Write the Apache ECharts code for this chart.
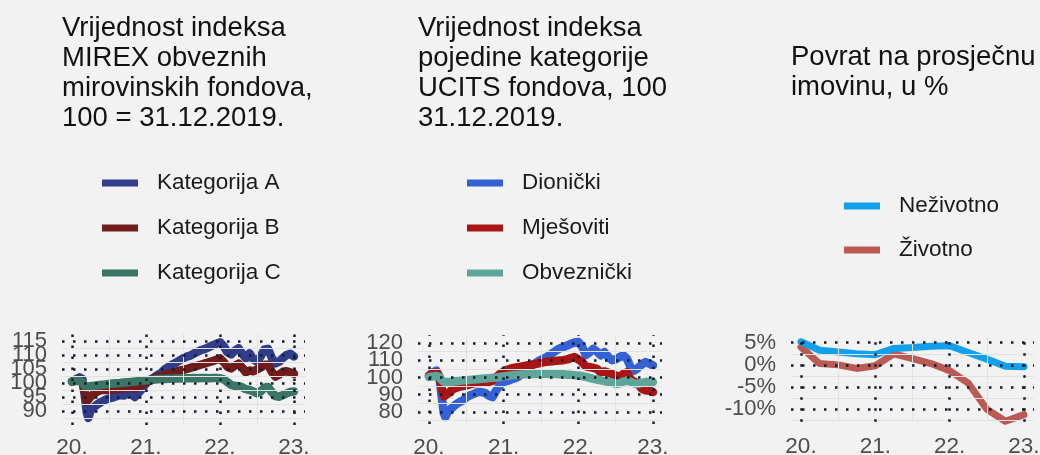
<!DOCTYPE html>
<html><head><meta charset="utf-8">
<script src="https://cdn.jsdelivr.net/npm/echarts@6/dist/echarts.min.js"></script>
<style>html,body{margin:0;padding:0;background:#f2f2f2}#c{width:1040px;height:455px}</style>
</head><body><div id="c"></div>
<script>
// ---- data ----
const dates = [2020.00,2020.05,2020.10,2020.14,2020.17,2020.20,2020.22,2020.25,2020.30,2020.35,2020.40,2020.45,2020.50,2020.55,2020.60,2020.65,2020.70,2020.75,2020.80,2020.85,2020.90,2020.95,2021.00,
2021.05,2021.10,2021.15,2021.20,2021.25,2021.30,2021.35,2021.40,2021.45,2021.50,2021.55,2021.60,2021.65,2021.70,2021.75,2021.80,2021.85,2021.90,2021.95,2022.00,
2022.05,2022.10,2022.15,2022.20,2022.25,2022.30,2022.35,2022.40,2022.45,2022.50,2022.55,2022.60,2022.65,2022.70,2022.75,2022.80,2022.85,2022.90,2022.95,2023.00];

const katA = [100.5,101.3,102.0,101.5,96,89.5,87.5,90,91.5,92.5,93.3,94,94.5,94.8,95.3,95.7,95.5,96.3,96,95,96.5,98,99.8,
101,101.8,102.8,103.5,104.8,105.7,106.5,107.2,108,108.8,109.4,109.8,110.6,111.2,111.8,112.2,112.8,113.4,114,114.5,
113.2,111,110.2,111.5,112.4,110.5,108.8,110.6,108.5,107.6,109.5,112,112.2,109,107,107.6,109,110,110.4,109.5];
const katB = [100.5,101,101.2,100.5,97,93.3,93.5,95,96.3,97,97.5,97.5,97.6,97.6,97.8,98,98.1,98.3,98.2,98,98.8,99.5,100.2,
101,101.6,102,102.4,102.8,103.3,103.6,104,104.4,104.7,105,105.4,105.8,106.2,106.6,107,107.4,107.8,108.3,108.8,
107.5,105.8,105.2,106.2,106.9,105.5,103.8,104.5,104.2,104.8,105.5,106.5,106.5,104,102.3,103,104,104.2,103.8,103.3];
const katC = [100.5,100.7,100.8,100.3,99,98.5,98.6,98.9,99,99.2,99.4,99.5,99.7,99.8,99.9,100,100.2,100.3,100.4,100.5,100.7,100.8,101,
101.1,101.2,101.3,101.4,101.4,101.5,101.5,101.6,101.6,101.7,101.7,101.7,101.8,101.7,101.8,101.8,101.7,101.8,101.8,101.7,
101.3,100.3,99.3,99,98.8,98.5,97.8,97.5,97,96.3,97,98.3,98.6,96.8,95.3,95.1,95.7,96.3,96.8,97];

const dionicki = [101,103,104,100,89,79,77,80,82,84,85.5,86.5,88.5,89.6,90.5,91.5,91.5,91,89.5,88.6,92.5,95.5,97.5,
98,98.8,99.5,100.5,102.5,104.5,106,107.5,109,110.3,111.2,112.5,114,115.5,116.8,117.6,118.5,119.5,120.3,120.5,
118,113,114.5,116.6,115,112.8,114.7,112,110,110.5,111.8,112.8,111,106,104,105.5,107.5,108.9,108,107];
const mjesoviti = [101,102.5,103,100.5,94,89,88.6,90.5,92.5,93.8,94.5,95,95.4,96,96.5,97,97.3,97.6,97.5,98,100,102,103.5,
104.5,105.2,105.6,106,106.4,106.8,107.2,107.6,108,108.5,108.9,109.2,109.4,109.6,109.8,110,110.5,111.2,111.8,110.5,
108.9,106.5,106,105.5,105,103,103.5,102.8,102,101.2,100.2,102,103,99,97.5,96.3,93.5,92.5,92.5,91.5];
const obveznicki = [100.2,100.6,100.8,100.2,98.5,97.5,97.2,97.3,97.5,97.8,98,98.2,98.4,98.6,98.8,99,99.2,99.4,99.6,99.8,100,100.3,100.6,
100.9,101.2,101.4,101.6,101.7,101.8,101.9,102,102,102.1,102.1,102.1,102,102,101.9,101.8,101.6,101.5,101.3,101.2,
100.8,100.3,99.8,99.2,98.8,98.3,97.9,97.5,97,96.2,96.5,97.5,98.2,97.5,96.5,96.3,96.8,97.3,97.5,97.3];

const quarters = [2020.00,2020.25,2020.50,2020.75,2021.00,2021.25,2021.50,2021.75,2022.00,2022.25,2022.50,2022.75,2023.00];
const nezivotno = [5.2,3.3,2.9,2.5,2.3,3.7,3.9,4.2,4.3,2.8,1.3,-0.3,-0.4];
const zivotno = [4.0,0.3,0.0,-0.8,-0.2,2.5,1.4,0.3,-1.3,-4.1,-10.0,-12.7,-11.2];

const xTicks = [2020,2021,2022,2023];
const xMinor = [2020.5,2021.5,2022.5];
const yTicks1 = [90,95,100,105,110,115];
const yMinor1 = [87.5,92.5,97.5,102.5,107.5,112.5];
const yTicks2 = [80,90,100,110,120];
const yMinor2 = [75,85,95,105,115];
const yTicks3 = [5,0,-5,-10];
const yMinor3 = [2.5,-2.5,-7.5,-12.5];

const titles = [
  'Vrijednost indeksa\nMIREX obveznih\nmirovinskih fondova,\n100 = 31.12.2019.',
  'Vrijednost indeksa\npojedine kategorije\nUCITS fondova, 100\n31.12.2019.',
  'Povrat na prosječnu\nimovinu, u %'
];
const names1 = ['Kategorija A','Kategorija B','Kategorija C'];
const names2 = ['Dionički','Mješoviti','Obveznički'];
const names3 = ['Neživotno','Životno'];

// ---- build ----
const FONT = "'Liberation Sans', Arial, Helvetica, sans-serif";
const colors1 = ['#2f3d8a','#701c1c','#3a7566'];
const colors2 = ['#3461d6','#a91515','#5fa69a'];
const colors3 = ['#12a0ea','#bb5a52'];
const DOT = {type:[2.5,8.5], width:2.5, color:'#141c2e'};
const LIGHT = {type:'solid', width:1, color:'#e2e2e2'};

const pairs = (xs, ys) => xs.map((x,i)=>[x, ys[i]]);
const evens = a => a.filter((_, i) => i % 2 === 0);
const odds = a => a.filter((_, i) => i % 2 === 1);

function gridLines(idx, yT, yM) {
  const data = [];
  xMinor.forEach(v => data.push({xAxis:v, lineStyle:LIGHT}));
  yM.forEach(v => data.push({yAxis:v, lineStyle:LIGHT}));
  yT.forEach(v => data.push({yAxis:v, lineStyle:DOT}));
  xTicks.forEach(v => data.push({xAxis:v, lineStyle:DOT}));
  return {type:'line', xAxisIndex:idx, yAxisIndex:idx, data:[], z:1, silent:true,
    markLine:{silent:true, symbol:['none','none'], label:{show:false}, animation:false, data}};
}
function xAxis(idx, min, max, margin) {
  return {type:'value', gridIndex:idx, min, max,
    axisLine:{show:false}, axisTick:{show:false}, splitLine:{show:false},
    axisLabel:{customValues:xTicks, hideOverlap:false, showMinLabel:true, showMaxLabel:true,
      formatter:v=>String(Math.round(v)).slice(2)+'.',
      fontSize:22.5, color:'#4d4d4d', fontFamily:FONT, margin}};
}
function yAxis(gidx, min, max, ticks, pct) {
  return {type:'value', gridIndex:gidx, min, max, position:'left', offset:0,
    axisLine:{show:false}, axisTick:{show:false}, splitLine:{show:false},
    axisLabel:{customValues:ticks, hideOverlap:false, showMinLabel:true, showMaxLabel:true,
      formatter:v=>pct? v+'%' : String(v),
      fontSize:22, color:'#4d4d4d', fontFamily:FONT, margin:15}};
}
function lineSeries(name, idx, data, color, w) {
  return {name, type:'line', xAxisIndex:idx, yAxisIndex:idx, data, showSymbol:false, symbol:'none',
    clip:false, z:2, color, lineStyle:{width:w, color, cap:'round', join:'round'}, animation:false};
}
function legend(names, left, top, gap) {
  return {data:names, orient:'vertical', left, top, itemWidth:36, itemHeight:7, itemGap:gap, icon:'rect',
    padding:0, selectedMode:false,
    textStyle:{fontSize:22.5, color:'#1a1a1a', fontFamily:FONT, lineHeight:24, padding:[0,0,0,14]}};
}
function title(text, left, top) {
  return {text, left, top, padding:0,
    textStyle:{fontSize:27.5, lineHeight:30, fontWeight:'normal', color:'#111111', fontFamily:FONT}};
}
function grid(left, top, width, height) {
  return {left, top, width, height, containLabel:false, outerBoundsMode:'none'};
}

const option = {
  backgroundColor:'#f2f2f2',
  animation:false,
  title:[title(titles[0],62,13), title(titles[1],418,13), title(titles[2],791,42)],
  legend:[legend(names1,102,171,21), legend(names2,467,171,21), legend(names3,844,194,20)],
  grid:[grid(62,334,243,91), grid(418,335.2,244,88.8), grid(791,336.9,243,84.8)],
  xAxis:[xAxis(0,2019.865,2023.149,11), xAxis(1,2019.853,2023.121,12), xAxis(2,2019.8655,2023.135,14)],
  yAxis:[
    yAxis(0,85,117.5,evens(yTicks1),false), yAxis(1,73,124.5,evens(yTicks2),false), yAxis(2,-12.8,6.3,evens(yTicks3),true),
    yAxis(0,85,117.5,odds(yTicks1),false), yAxis(1,73,124.5,odds(yTicks2),false), yAxis(2,-12.8,6.3,odds(yTicks3),true)
  ],
  series:[
    gridLines(0,yTicks1,yMinor1), gridLines(1,yTicks2,yMinor2), gridLines(2,yTicks3,yMinor3),
    lineSeries(names1[0],0,pairs(dates,katA),colors1[0],8.5),
    lineSeries(names1[1],0,pairs(dates,katB),colors1[1],8.5),
    lineSeries(names1[2],0,pairs(dates,katC),colors1[2],8.5),
    lineSeries(names2[0],1,pairs(dates,dionicki),colors2[0],8.5),
    lineSeries(names2[1],1,pairs(dates,mjesoviti),colors2[1],8.5),
    lineSeries(names2[2],1,pairs(dates,obveznicki),colors2[2],8.5),
    lineSeries(names3[1],2,pairs(quarters,zivotno),colors3[1],7),
    lineSeries(names3[0],2,pairs(quarters,nezivotno),colors3[0],7)
  ]
};
const chart = echarts.init(document.getElementById('c'), null, {renderer:'canvas'});
chart.setOption(option);
</script></body></html>
